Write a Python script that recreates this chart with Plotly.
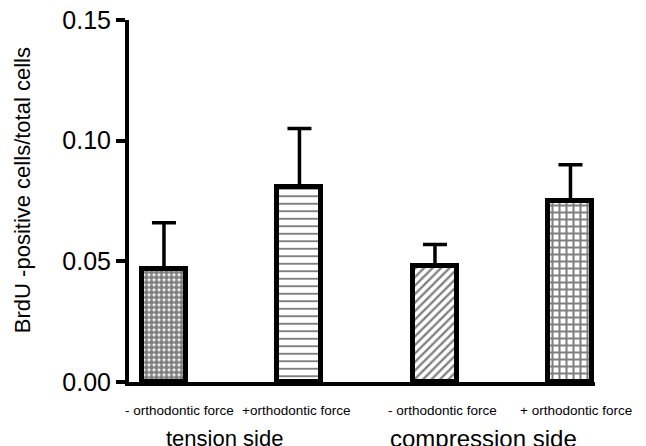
import plotly.graph_objects as go

categories = ["- orthodontic force", "+orthodontic force", "- orthodontic force", "+ orthodontic force"]
means = [0.047, 0.081, 0.048, 0.075]
sem_upper = [0.019, 0.024, 0.009, 0.015]
groups = ["tension side", "compression side"]
group_pos = [0.45, 2.36]
y_ticks = [0.00, 0.05, 0.10, 0.15]
y_ticktext = ["0.00", "0.05", "0.10", "0.15"]
y_title = "BrdU -positive cells/total cells"

patterns = [
    dict(shape=".", size=5, solidity=0.75, fgcolor="black", bgcolor="white"),
    dict(shape="-", size=7.5, solidity=0.25, fgcolor="black", bgcolor="white"),
    dict(shape="/", size=6, solidity=0.38, fgcolor="black", bgcolor="white"),
    dict(shape="+", size=7, solidity=0.5, fgcolor="black", bgcolor="white"),
]

xs = list(range(len(categories)))
fig = go.Figure()
for i, x in enumerate(xs):
    fig.add_trace(go.Bar(
        x=[x], y=[means[i]], width=0.325,
        marker=dict(color="white", pattern=patterns[i], line=dict(color="black", width=5)),
        error_y=dict(type="data", symmetric=False, array=[sem_upper[i]], arrayminus=[0],
                     color="black", thickness=3.5, width=12),
        showlegend=False,
    ))

FONT = "Liberation Sans, Arial, sans-serif"
label_shift = [16, -3, 8, 6]
annotations = []
for i, c in enumerate(categories):
    annotations.append(dict(x=xs[i], y=-0.080, xref="x", yref="paper", text=c, showarrow=False,
                            xanchor="center", yanchor="middle", xshift=label_shift[i],
                            font=dict(family=FONT, size=13.5, color="black")))
group_sizes = [22, 24]
for g, p, s in zip(groups, group_pos, group_sizes):
    annotations.append(dict(x=p, y=-0.155, xref="x", yref="paper", text=g, showarrow=False,
                            xanchor="center", yanchor="middle",
                            font=dict(family=FONT, size=s, color="black")))
annotations.append(dict(x=-0.2296, y=0.53, xref="paper", yref="paper", text=y_title, showarrow=False,
                        textangle=-90, xanchor="center", yanchor="middle",
                        font=dict(family=FONT, size=22, color="black")))

fig.update_layout(
    width=638, height=438,
    margin=dict(l=121, r=51, t=12, b=64),
    paper_bgcolor="white", plot_bgcolor="white",
    bargap=0,
    annotations=annotations,
    font=dict(family=FONT, color="black"),
)
fig.update_xaxes(range=[-0.258, 3.181], showline=True, linecolor="black", linewidth=4,
                 showticklabels=False, ticks="", showgrid=False, zeroline=False)
fig.update_yaxes(range=[0, 0.15], tickvals=y_ticks, ticktext=y_ticktext, showline=True,
                 linecolor="black", linewidth=4, ticks="outside", ticklen=9, tickwidth=4,
                 tickcolor="black", showgrid=False, zeroline=False, automargin=False,
                 ticklabeloverflow="allow",
                 tickfont=dict(family=FONT, size=25, color="black"))

fig.write_html("out.html")
